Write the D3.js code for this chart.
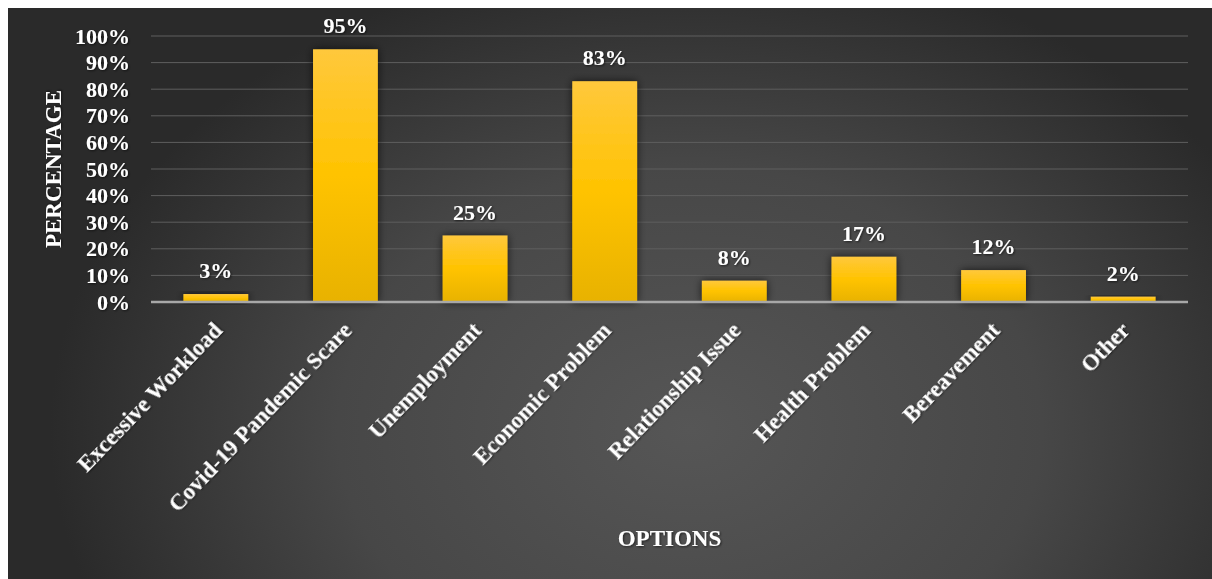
<!DOCTYPE html>
<html>
<head>
<meta charset="utf-8">
<script src="https://cdn.jsdelivr.net/npm/d3@7"></script>
<style>
  html, body { margin: 0; padding: 0; background: #ffffff; }
  svg { display: block; }
  text { font-family: "Liberation Serif", "Times New Roman", serif; font-weight: bold; fill: #ffffff; }
</style>
</head>
<body>
<svg id="chart" width="1212" height="579"></svg>
<script>
// Reasons reported, share of respondents (%)
const categories = [
  "Excessive Workload",
  "Covid-19 Pandemic Scare",
  "Unemployment",
  "Economic Problem",
  "Relationship Issue",
  "Health Problem",
  "Bereavement",
  "Other"
];
const percentages = [3, 95, 25, 83, 8, 17, 12, 2];
const yTicks = [0, 10, 20, 30, 40, 50, 60, 70, 80, 90, 100];
const yTitle = "PERCENTAGE";
const xTitle = "OPTIONS";

const W = 1212, H = 579;
const plot = { left: 151, right: 1188, top: 36, bottom: 302 };

const svg = d3.select("#chart");
const defs = svg.append("defs");

// Dark radial backdrop
const bg = defs.append("radialGradient")
  .attr("id", "bgGrad")
  .attr("gradientUnits", "userSpaceOnUse")
  .attr("cx", 690).attr("cy", 430).attr("r", 640)
  .attr("gradientTransform", "translate(690,430) scale(1,0.75) translate(-690,-430)");
bg.append("stop").attr("offset", "0%").attr("stop-color", "#565656");
bg.append("stop").attr("offset", "55%").attr("stop-color", "#474747");
bg.append("stop").attr("offset", "100%").attr("stop-color", "#2a2a2a");

// Gold bar fill
const barGrad = defs.append("linearGradient")
  .attr("id", "barGrad").attr("x1", 0).attr("y1", 0).attr("x2", 0).attr("y2", 1);
barGrad.append("stop").attr("offset", "0%").attr("stop-color", "#ffc83c");
barGrad.append("stop").attr("offset", "50%").attr("stop-color", "#ffc300");
barGrad.append("stop").attr("offset", "100%").attr("stop-color", "#e8b200");

// Soft shadow behind bars
const shadow = defs.append("filter").attr("id", "barShadow")
  .attr("x", "-30%").attr("y", "-30%").attr("width", "160%").attr("height", "160%");
shadow.append("feGaussianBlur").attr("in", "SourceAlpha").attr("stdDeviation", 4).attr("result", "blur");
shadow.append("feComponentTransfer").attr("in", "blur").attr("result", "dark")
  .append("feFuncA").attr("type", "linear").attr("slope", 0.7);
const merge = shadow.append("feMerge");
merge.append("feMergeNode").attr("in", "dark");
merge.append("feMergeNode").attr("in", "SourceGraphic");

// Subtle text shadow
const tShadow = defs.append("filter").attr("id", "textShadow")
  .attr("x", "-10%").attr("y", "-20%").attr("width", "130%").attr("height", "160%");
tShadow.append("feDropShadow").attr("dx", 1).attr("dy", 1).attr("stdDeviation", 1)
  .attr("flood-color", "#000000").attr("flood-opacity", 0.6);

svg.append("rect")
  .attr("x", 8).attr("y", 8).attr("width", W - 8).attr("height", H - 8)
  .attr("fill", "url(#bgGrad)");

const x = d3.scaleBand()
  .domain(categories)
  .range([plot.left, plot.right])
  .paddingInner(0.5)
  .paddingOuter(0.25);

const y = d3.scaleLinear()
  .domain([0, 100])
  .range([plot.bottom, plot.top]);

// Gridlines
svg.append("g")
  .selectAll("line")
  .data(yTicks.filter(t => t > 0))
  .join("line")
  .attr("x1", plot.left).attr("x2", plot.right)
  .attr("y1", d => y(d)).attr("y2", d => y(d))
  .attr("stroke", "#5e5e5e").attr("stroke-width", 1);

// Y axis labels
const yAxis = d3.axisLeft(y)
  .tickValues(yTicks)
  .tickFormat(d => d + "%")
  .tickSize(0)
  .tickPadding(21);
const yG = svg.append("g").attr("transform", `translate(${plot.left},0)`).call(yAxis);
yG.select(".domain").remove();
yG.selectAll("text")
  .attr("font-size", 22)
  .attr("fill", "#ffffff")
  .attr("font-family", "Liberation Serif, Times New Roman, serif")
  .attr("font-weight", "bold")
  .attr("filter", "url(#textShadow)");

// Bars
svg.append("g")
  .selectAll("rect")
  .data(categories.map((c, i) => ({ c, v: percentages[i] })))
  .join("rect")
  .attr("x", d => x(d.c))
  .attr("y", d => y(d.v))
  .attr("width", x.bandwidth())
  .attr("height", d => y(0) - y(d.v))
  .attr("fill", "url(#barGrad)")
  .attr("filter", "url(#barShadow)");

// Baseline
svg.append("line")
  .attr("x1", plot.left).attr("x2", plot.right)
  .attr("y1", y(0)).attr("y2", y(0))
  .attr("stroke", "#a8a8a8").attr("stroke-width", 2.5);

// Value labels
svg.append("g")
  .selectAll("text")
  .data(categories.map((c, i) => ({ c, v: percentages[i] })))
  .join("text")
  .attr("x", d => x(d.c) + x.bandwidth() / 2)
  .attr("y", d => y(d.v) - 16)
  .attr("text-anchor", "middle")
  .attr("font-size", 22)
  .attr("filter", "url(#textShadow)")
  .text(d => d.v + "%");

// Category labels, rotated
const xAxis = d3.axisBottom(x).tickSize(0).tickPadding(0);
const xG = svg.append("g").attr("transform", `translate(0,${plot.bottom})`).call(xAxis);
xG.select(".domain").remove();
xG.selectAll(".tick text")
  .attr("font-size", 23)
  .attr("fill", "#ffffff")
  .attr("font-family", "Liberation Serif, Times New Roman, serif")
  .attr("font-weight", "bold")
  .attr("text-anchor", "end")
  .attr("x", 0).attr("y", 0)
  .attr("dy", "0.35em")
  .attr("transform", "translate(2,24) rotate(-46)")
  .attr("filter", "url(#textShadow)");

// Axis titles
svg.append("text")
  .attr("transform", `translate(53,169) rotate(-90)`)
  .attr("text-anchor", "middle")
  .attr("dy", "0.35em")
  .attr("font-size", 23)
  .attr("filter", "url(#textShadow)")
  .text(yTitle);

svg.append("text")
  .attr("x", (plot.left + plot.right) / 2)
  .attr("y", 546)
  .attr("text-anchor", "middle")
  .attr("font-size", 23)
  .attr("filter", "url(#textShadow)")
  .text(xTitle);
</script>
</body>
</html>
